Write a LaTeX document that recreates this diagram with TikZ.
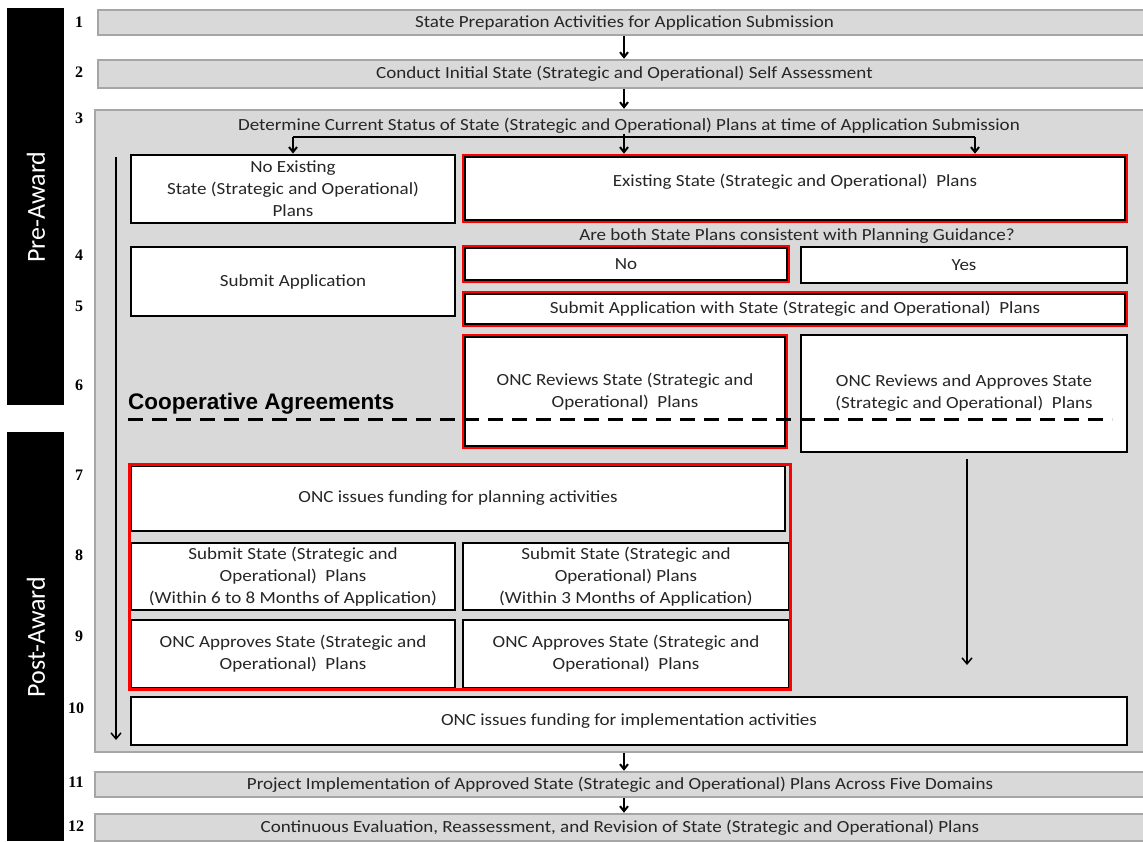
\documentclass[tikz,border=0pt]{standalone}
\usepackage{fontspec}
\setmainfont{Carlito}[FakeStretch=1.12]
\newfontfamily\numfont{Liberation Serif}
\newfontfamily\arialf{Liberation Sans}
\newfontfamily\bandfont{Carlito}
\usetikzlibrary{arrows.meta}
\definecolor{barfill}{HTML}{D9D9D9}
\definecolor{bardraw}{HTML}{A6A6A6}
\definecolor{txtcol}{HTML}{262626}
\begin{document}
\begin{tikzpicture}[x=1pt,y=-1pt,
  txt/.style={font=\fontsize{17}{22}\selectfont, text=txtcol, align=center, inner sep=0pt},
  bar/.style={txt, draw=bardraw, fill=barfill, line width=2.5pt},
  box/.style={txt, draw=black, fill=white, line width=2.8pt},
  redbox/.style={box, draw=red, line width=2.6pt,
    path picture={\draw[black, line width=6pt] (path picture bounding box.north west) rectangle (path picture bounding box.south east);}},
  num/.style={font=\numfont\bfseries\fontsize{16}{16}\selectfont, inner sep=0pt},
  band/.style={fill=black, draw=none},
  bandtxt/.style={font=\bandfont\fontsize{26}{26}\selectfont, text=white, rotate=90, inner sep=0pt},
  arr/.style={-{Straight Barb[length=5pt,width=8pt]}, line width=2pt},
  thinarr/.style={-{Straight Barb[length=6pt,width=10pt]}, line width=1.5pt},
  hline/.style={line width=2pt}
]
\useasboundingbox[fill=white] (0,0) rectangle (1143,841);

% side bands
\path[band] (7,8) rectangle (64,405);
\path[band] (7,432) rectangle (64,841);
\node[bandtxt] (pre) at (36,207) {Pre-Award};
\node[bandtxt] (post) at (36,637) {Post-Award};

% step numbers
\node[num] (n1) at (79,22) {1};
\node[num] (n2) at (79,72) {2};
\node[num] (n3) at (79,118) {3};
\node[num] (n4) at (79,255) {4};
\node[num] (n5) at (79,306) {5};
\node[num] (n6) at (79,385) {6};
\node[num] (n7) at (79,475) {7};
\node[num] (n8) at (79,555) {8};
\node[num] (n9) at (79,636) {9};
\node[num] (n10) at (76,708) {10};
\node[num] (n11) at (76,782) {11};
\node[num] (n12) at (76,826) {12};

% top bars
\node[bar, minimum width=1047pt, minimum height=25pt] (b1) at (621.5,22.5) {\hspace*{6pt}State Preparation Activities for Application Submission};
\node[bar, minimum width=1047pt, minimum height=28pt] (b2) at (621.5,74) {\hspace*{6pt}Conduct Initial State (Strategic and Operational) Self Assessment};

% big box 3
\node[bar, minimum width=1050pt, minimum height=642pt] (b3) at (620,431) {};

\coordinate (cx) at (624,0);
\coordinate (hl) at (0,137);
\coordinate (rr) at (975,137);

\node[txt] (det) at (629,126) {Determine Current Status of State (Strategic and Operational) Plans at time of Application Submission};

\node[box, minimum width=324pt, minimum height=68pt] (noex) at (293,189) {No Existing\\State (Strategic and Operational)\\Plans};
\node[redbox, minimum width=664pt, minimum height=67pt] (ex) at (795,188.5) {Existing State (Strategic and Operational)\ \ Plans\\[-6pt]};

\node[txt] (q) at (797,236) {Are both State Plans consistent with Planning Guidance?};

\node[box, minimum width=324pt, minimum height=69pt] (subapp) at (293,281.5) {Submit Application};
\node[redbox, minimum width=326pt, minimum height=36pt] (no) at (626,264) {No};
\node[box, minimum width=326pt, minimum height=36pt] (yes) at (964,265) {Yes};
\node[redbox, minimum width=664pt, minimum height=34pt] (subwith) at (795,309) {Submit Application with State (Strategic and Operational)\ \ Plans};

\node[redbox, minimum width=324pt, minimum height=113pt] (rev) at (625,391.5) {ONC Reviews State (Strategic and\\Operational)\ \ Plans};
\node[box, minimum width=326pt, minimum height=117pt] (appr) at (964,393.5) {ONC Reviews and Approves State\\(Strategic and Operational)\ \ Plans};

\node[box, minimum width=654pt, minimum height=65pt] (fund7) at (458,498.5) {ONC issues funding for planning activities};
\node[box, minimum width=324pt, minimum height=67pt] (sub8l) at (293,576.5) {Submit State (Strategic and\\Operational)\ \ Plans\\(Within 6 to 8 Months of Application)};
\node[box, minimum width=326pt, minimum height=67pt] (sub8r) at (626,576.5) {Submit State (Strategic and\\Operational) Plans\\(Within 3 Months of Application)};
\node[box, minimum width=324pt, minimum height=68pt] (app9l) at (293,654) {ONC Approves State (Strategic and\\Operational)\ \ Plans};
\node[box, minimum width=326pt, minimum height=68pt] (app9r) at (626,654) {ONC Approves State (Strategic and\\Operational)\ \ Plans};
\draw[red, line width=2.5pt] (fund7.north west) rectangle (app9r.south east);

\node[box, minimum width=996pt, minimum height=48pt] (fund10) at (629,721) {ONC issues funding for implementation activities};

% bottom bars
\node[bar, minimum width=1050pt, minimum height=25pt] (b11) at (620,784.5) {Project Implementation of Approved State (Strategic and Operational) Plans Across Five Domains};
\node[bar, minimum width=1050pt, minimum height=27pt] (b12) at (620,827.5) {Continuous Evaluation, Reassessment, and Revision of State (Strategic and Operational) Plans};

% cooperative agreements
\node[font=\arialf\bfseries\fontsize{22.5}{22.5}\selectfont, anchor=west, inner sep=0pt] (coop) at (128,404) {Cooperative Agreements};
\coordinate (dl) at (128,419);
\coordinate (dr) at (1112,419);
\draw[line width=3pt, dash pattern=on 15pt off 9pt] (dl) -- (dr);

% connectors
\draw[arr] (b1.south -| cx) -- (b2.north -| cx);
\draw[arr] (b2.south -| cx) -- (b3.north -| cx);
\draw[hline] (noex.north |- hl) -- (rr);
\draw[arr] (noex.north |- hl) -- (noex.north);
\draw[arr] (det.south -| cx) -- (ex.north -| cx);
\draw[arr] (rr) -- (rr |- ex.north);

\coordinate (lt) at (116,157);
\coordinate (lb) at (116,740);
\draw[thinarr] (lt) -- (lb);

\coordinate (ae) at (967,665);
\draw[thinarr] ([yshift=-6pt]appr.south -| ae) -- (ae);

\draw[arr] (b3.south -| cx) -- (b11.north -| cx);
\draw[arr] (b11.south -| cx) -- (b12.north -| cx);
\end{tikzpicture}
\end{document}
